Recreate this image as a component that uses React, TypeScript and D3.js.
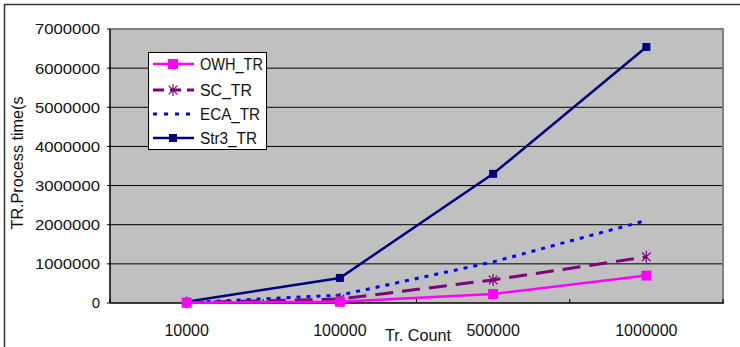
import React from "react";
import * as d3 from "d3";

const categories = ["10000", "100000", "500000", "1000000"];
const yTicks = [0, 1000000, 2000000, 3000000, 4000000, 5000000, 6000000, 7000000];

const owhValues = [5000, 30000, 230000, 700000];
const scValues = [10000, 100000, 590000, 1180000];
const ecaValues = [10000, 200000, 1050000, 2110000];
const str3Values = [30000, 640000, 3300000, 6540000];

const seriesNames = ["OWH_TR", "SC_TR", "ECA_TR", "Str3_TR"];
const legendTextWidths = [63, 52, 60, 57];

const W = 740;
const H = 347;
const plot = { left: 110, right: 723, top: 29, bottom: 303 };
const FONT = "'Liberation Sans', Arial, sans-serif";

type Style = {
  color: string;
  width: number;
  dash?: string;
  marker: "square" | "star" | "none" | "smallsquare";
};

const styles: Style[] = [
  { color: "#FF00FF", width: 2.5, marker: "square" },
  { color: "#800080", width: 3, dash: "18,9", marker: "star" },
  { color: "#0000FF", width: 3, dash: "4,6", marker: "none" },
  { color: "#000080", width: 2.5, marker: "smallsquare" },
];

function Marker({ kind, x, y, color }: { kind: Style["marker"]; x: number; y: number; color: string }) {
  if (kind === "square") {
    return <rect x={x - 5} y={y - 5} width={10} height={10} fill={color} />;
  }
  if (kind === "smallsquare") {
    return <rect x={x - 4} y={y - 4} width={8} height={8} fill={color} />;
  }
  if (kind === "star") {
    const r = 6;
    const d = r * 0.72;
    return (
      <g stroke={color} strokeWidth={1.2}>
        <line x1={x} y1={y - r} x2={x} y2={y + r} />
        <line x1={x - d} y1={y - d} x2={x + d} y2={y + d} />
        <line x1={x - d} y1={y + d} x2={x + d} y2={y - d} />
      </g>
    );
  }
  return null;
}

export default function App() {
  const x = d3
    .scalePoint<string>()
    .domain(categories)
    .range([plot.left, plot.right])
    .padding(0.5);
  const y = d3.scaleLinear().domain([0, 7000000]).range([plot.bottom, plot.top]);
  const step = x.step();
  const boundaries = d3.range(categories.length + 1).map((i) => plot.left + i * step);

  const allSeries = [owhValues, scValues, ecaValues, str3Values];
  const line = d3
    .line<number>()
    .x((_, i) => x(categories[i]) as number)
    .y((v) => y(v));

  // Str3 drawn first so the smaller series sit on top of it
  const drawOrder = [3, 2, 1, 0];

  const legend = { x: 148, y: 52, w: 118, h: 97 };
  const legendRows = [64, 90, 114, 138];

  return (
    <svg
      width={W}
      height={H}
      style={{ position: "absolute", left: 0, top: 0, background: "#fff" }}
      fontFamily={FONT}
      fill="#111"
    >
      {/* outer frame */}
      <rect x={4.5} y={4.5} width={W + 10} height={H + 10} fill="none" stroke="#333" strokeWidth={1.5} />

      {/* plot area */}
      <rect
        x={plot.left}
        y={plot.top}
        width={plot.right - plot.left}
        height={plot.bottom - plot.top}
        fill="#C0C0C0"
      />
      {yTicks.slice(1).map((t) => (
        <line key={t} x1={plot.left} x2={plot.right} y1={y(t)} y2={y(t)} stroke="#000" strokeWidth={1} />
      ))}
      {/* plot border: gray on top/right */}
      <line x1={plot.left} x2={plot.right + 1} y1={plot.top} y2={plot.top} stroke="#808080" strokeWidth={2} />
      <line x1={plot.right} x2={plot.right} y1={plot.top} y2={plot.bottom} stroke="#808080" strokeWidth={2} />
      {/* axes */}
      <line x1={plot.left} x2={plot.left} y1={plot.top} y2={plot.bottom} stroke="#000" strokeWidth={1.5} />
      <line x1={plot.left} x2={plot.right + 1} y1={plot.bottom} y2={plot.bottom} stroke="#000" strokeWidth={1.5} />
      {yTicks.map((t) => (
        <line key={"yt" + t} x1={plot.left - 3} x2={plot.left} y1={y(t)} y2={y(t)} stroke="#000" strokeWidth={1} />
      ))}
      {boundaries.map((b, i) => (
        <line key={"xt" + i} x1={b} x2={b} y1={plot.bottom - 4} y2={plot.bottom} stroke="#000" strokeWidth={1} />
      ))}

      {/* y tick labels */}
      {yTicks.map((t) => {
        const s = String(t);
        return (
          <text
            key={"yl" + t}
            x={100}
            y={y(t)}
            dy="0.36em"
            textAnchor="end"
            fontSize={15}
            textLength={s.length > 1 ? s.length * 9.3 : undefined}
            lengthAdjust="spacingAndGlyphs"
          >
            {s}
          </text>
        );
      })}

      {/* x tick labels */}
      {categories.map((c) => (
        <text
          key={"xl" + c}
          x={x(c)}
          y={330}
          dy="0.36em"
          textAnchor="middle"
          fontSize={16}
          textLength={c.length * 8.9}
          lengthAdjust="spacingAndGlyphs"
        >
          {c}
        </text>
      ))}

      {/* axis titles */}
      <text x={418} y={341} textAnchor="middle" fontSize={16} textLength={66} lengthAdjust="spacingAndGlyphs">
        Tr. Count
      </text>
      <text
        transform="translate(23,163) rotate(-90)"
        textAnchor="middle"
        fontSize={16}
        textLength={133}
        lengthAdjust="spacingAndGlyphs"
      >
        TR.Process time(s
      </text>

      {/* series */}
      {drawOrder.map((si) => {
        const st = styles[si];
        const vals = allSeries[si];
        return (
          <g key={"s" + si}>
            <path
              d={line(vals) || ""}
              fill="none"
              stroke={st.color}
              strokeWidth={st.width}
              strokeDasharray={st.dash}
            />
            {vals.map((v, i) => (
              <Marker key={i} kind={st.marker} x={x(categories[i]) as number} y={y(v)} color={st.color} />
            ))}
          </g>
        );
      })}

      {/* legend */}
      <rect x={legend.x + 0.5} y={legend.y + 0.5} width={legend.w} height={legend.h} fill="#fff" stroke="#000" strokeWidth={1} />
      {seriesNames.map((name, i) => {
        const st = styles[i];
        const ly = legendRows[i];
        return (
          <g key={"lg" + i}>
            <line
              x1={153}
              x2={194}
              y1={ly}
              y2={ly}
              stroke={st.color}
              strokeWidth={st.width}
              strokeDasharray={st.dash ? (i === 2 ? "4,7" : "11,6") : undefined}
            />
            <Marker kind={st.marker} x={173} y={ly} color={st.color} />
            <text
              x={200}
              y={ly}
              dy="0.36em"
              fontSize={16}
              textLength={legendTextWidths[i]}
              lengthAdjust="spacingAndGlyphs"
            >
              {name}
            </text>
          </g>
        );
      })}
    </svg>
  );
}
